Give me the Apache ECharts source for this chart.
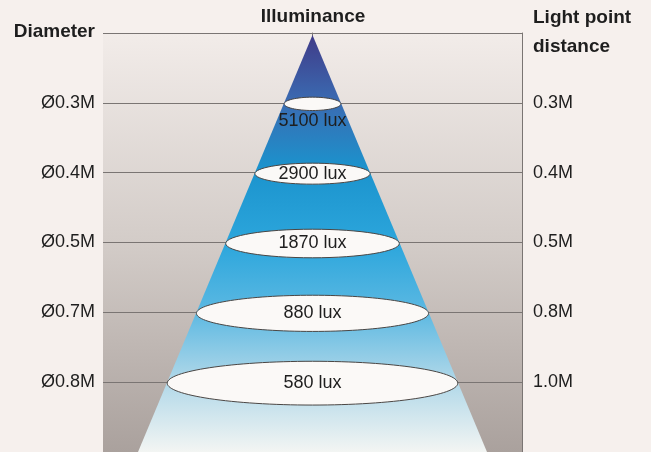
<!DOCTYPE html>
<html>
<head>
<meta charset="utf-8">
<script src="https://cdn.jsdelivr.net/npm/echarts@6/dist/echarts.min.js"></script>
<style>
  html, body { margin: 0; padding: 0; background: #f6f0ed; }
  #chart { width: 651px; height: 452px; }
</style>
</head>
<body>
<div id="chart"></div>
<script>
// rows top to bottom
const diameters = ['Ø0.3M', 'Ø0.4M', 'Ø0.5M', 'Ø0.7M', 'Ø0.8M'];
const distances = ['0.3M', '0.4M', '0.5M', '0.8M', '1.0M'];
const luxValues = [5100, 2900, 1870, 880, 580];

// cone geometry in axis units
const coneApex = -0.97;
const coneSlope = 29.3;
const halfWidth = row => coneSlope * (row - coneApex);

const font = 'Liberation Sans, Arial, Helvetica, sans-serif';
const lineColor = '#7a7573';
const titleStyle = { fontSize: 19, fontWeight: 'bold', color: '#1e1e1e', fontFamily: font };

const chart = echarts.init(document.getElementById('chart'));

const option = {
  backgroundColor: '#f6f0ed',
  animation: false,
  textStyle: { fontFamily: font },
  title: [
    { text: 'Diameter', right: 556, top: 22, padding: 0, textStyle: titleStyle },
    { text: 'Illuminance', left: 313, textAlign: 'center', top: 7, padding: 0, textStyle: titleStyle },
    { text: 'Light point', left: 533, top: 8, padding: 0, textStyle: titleStyle },
    { text: 'distance', left: 533, top: 37, padding: 0, textStyle: titleStyle }
  ],
  grid: {
    left: 103,
    right: 129,
    top: 33,
    bottom: 0,
    show: true,
    borderWidth: 0,
    backgroundColor: new echarts.graphic.LinearGradient(0, 0, 0, 1, [
      { offset: 0, color: '#f2ece9' },
      { offset: 0.5, color: '#d3ccc8' },
      { offset: 1, color: '#aaa19d' }
    ])
  },
  xAxis: {
    type: 'value',
    min: -210,
    max: 210,
    show: false
  },
  yAxis: [
    {
      type: 'value',
      inverse: true,
      min: -1,
      max: 5,
      interval: 1,
      position: 'left',
      axisLine: { show: true, lineStyle: { color: lineColor, width: 1 } },
      axisTick: { show: false },
      axisLabel: {
        margin: 8,
        fontSize: 18,
        color: '#1e1e1e',
        fontFamily: font,
        formatter: v => diameters[v] || ''
      },
      splitLine: { show: true, lineStyle: { color: lineColor, width: 1 } }
    },
    {
      type: 'value',
      inverse: true,
      min: -1,
      max: 5,
      interval: 1,
      position: 'right',
      axisLine: { show: true, lineStyle: { color: lineColor, width: 1 } },
      axisTick: { show: false },
      axisLabel: {
        margin: 11,
        fontSize: 18,
        color: '#1e1e1e',
        fontFamily: font,
        formatter: v => distances[v] || ''
      },
      splitLine: { show: false }
    }
  ],
  series: [
    {
      name: 'cone',
      type: 'custom',
      data: [[0, 5]],
      silent: true,
      renderItem: (params, api) => {
        const bottom = api.value(1);
        const apex = api.coord([0, coneApex]);
        const bl = api.coord([-halfWidth(bottom), bottom]);
        const br = api.coord([halfWidth(bottom), bottom]);
        return {
          type: 'polygon',
          shape: { points: [apex, br, bl] },
          style: {
            fill: new echarts.graphic.LinearGradient(0, 0, 0, 1, [
              { offset: 0, color: '#403b88' },
              { offset: 0.16, color: '#3a6bb2' },
              { offset: 0.32, color: '#1b93cd' },
              { offset: 0.5, color: '#2ca6dc' },
              { offset: 0.66, color: '#5ab8e2' },
              { offset: 0.82, color: '#acd6e8' },
              { offset: 1, color: '#f3f5f3' }
            ])
          }
        };
      }
    },
    {
      name: 'illuminance',
      type: 'custom',
      data: luxValues.map((lux, i) => [i, lux]),
      silent: true,
      renderItem: (params, api) => {
        const row = api.value(0);
        const lux = api.value(1);
        const c = api.coord([0, row]);
        const e = api.coord([halfWidth(row), row]);
        const rx = e[0] - c[0];
        const ry = 3 + 0.13 * rx;
        const label = lux + ' lux';
        // label goes below when the ellipse is too narrow for it
        const below = rx * 2 < 74;
        return {
          type: 'group',
          children: [
            {
              type: 'ellipse',
              shape: { cx: c[0], cy: c[1] + 1, rx: rx, ry: ry },
              style: { fill: '#fbf9f7', stroke: '#4a4644', lineWidth: 1 }
            },
            {
              type: 'text',
              x: c[0],
              y: below ? c[1] + 18 : c[1] + 1,
              style: {
                text: label,
                fontSize: 18,
                fontFamily: font,
                fill: '#1e1e1e',
                align: 'center',
                verticalAlign: 'middle'
              }
            }
          ]
        };
      }
    }
  ]
};

chart.setOption(option);
</script>
</body>
</html>
